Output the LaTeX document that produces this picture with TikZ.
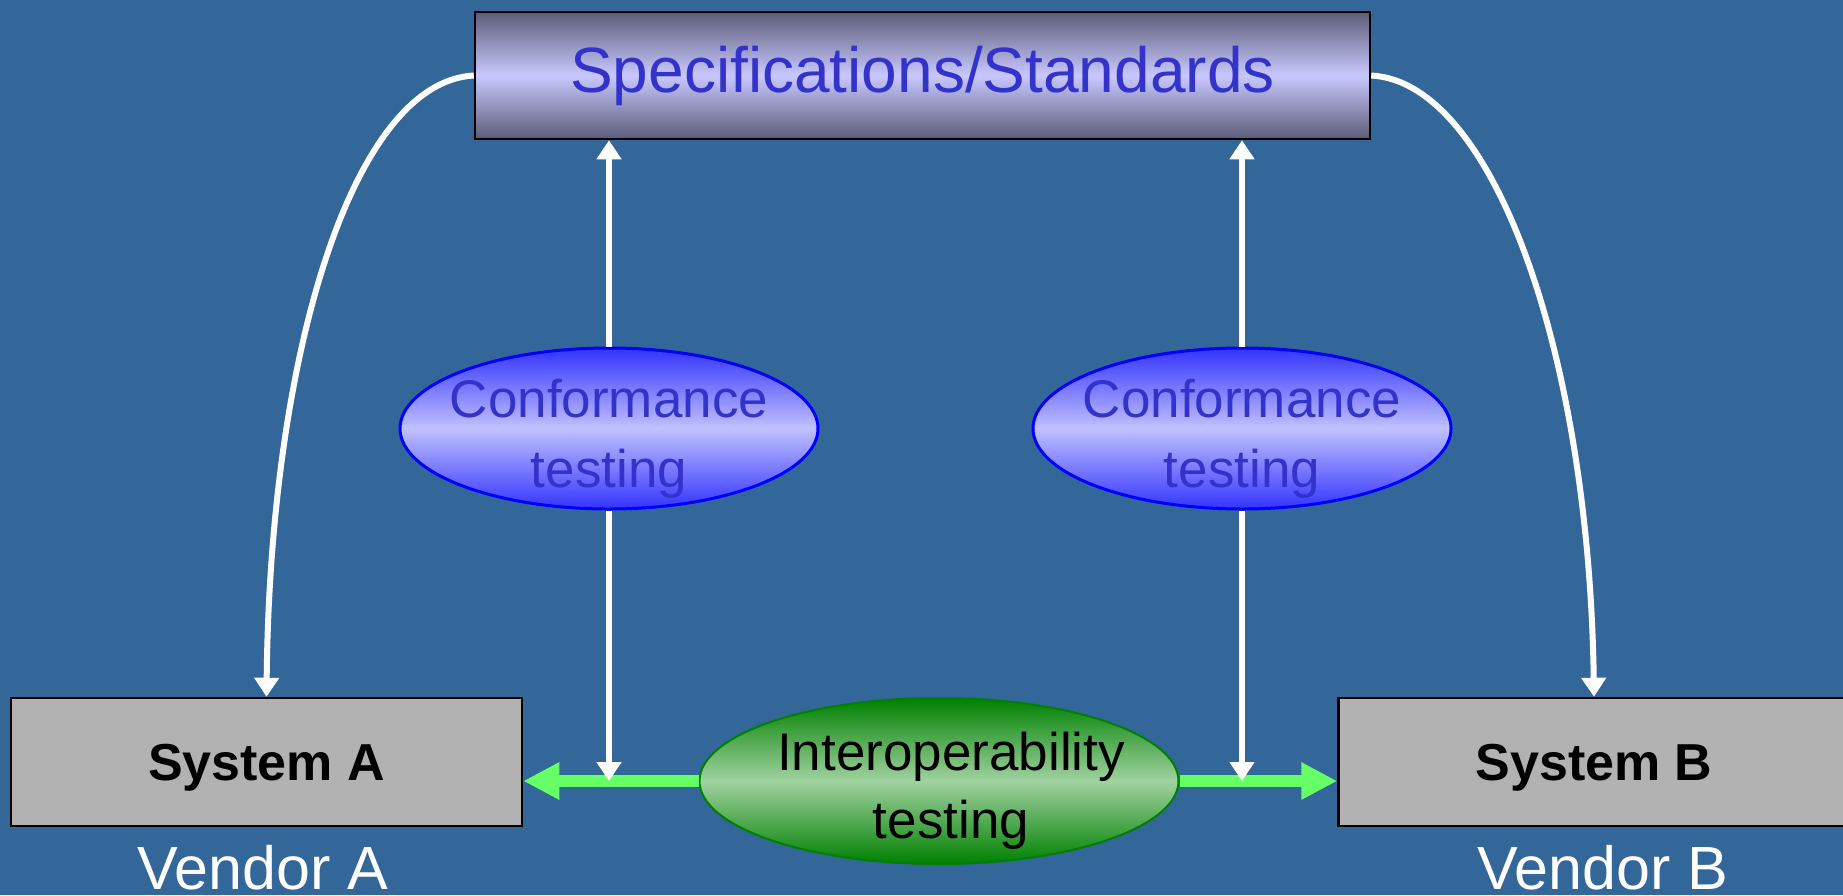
\documentclass[tikz,border=0pt]{standalone}
\usepackage{fontspec}
\setmainfont{Liberation Sans}
\usetikzlibrary{arrows.meta,shapes.geometric}
\definecolor{bg}{RGB}{51,102,153}
\definecolor{specdark}{RGB}{92,92,120}
\definecolor{speclight}{RGB}{200,200,255}
\definecolor{spectext}{RGB}{51,51,204}
\definecolor{confdark}{RGB}{51,51,255}
\definecolor{conflight}{RGB}{192,192,255}
\definecolor{interdark}{RGB}{0,128,0}
\definecolor{interlight}{RGB}{160,210,160}
\definecolor{sysgray}{RGB}{178,178,178}
\definecolor{arrowgreen}{RGB}{102,255,102}
\tikzset{
  specbox/.style={draw=black, line width=2.5pt, top color=specdark, bottom color=specdark, middle color=speclight,
    minimum width=895pt, minimum height=127pt, inner sep=0pt, text=spectext,
    font=\fontsize{64pt}{72pt}\selectfont},
  confell/.style={ellipse, draw=blue, line width=3pt, top color=confdark, bottom color=confdark, middle color=conflight,
    minimum width=418pt, minimum height=161pt, inner sep=0pt},
  conftext/.style={inner sep=0pt, align=center, text=spectext, yshift=-10pt,
    font=\fontsize{53pt}{70pt}\selectfont},
  interell/.style={ellipse, draw=interdark, line width=2pt, top color=interdark, bottom color=interdark, middle color=interlight,
    minimum width=479pt, minimum height=166pt, inner sep=0pt},
  intertext/.style={inner sep=0pt, align=center, text=black, yshift=-10pt, xshift=12pt,
    font=\fontsize{53pt}{68pt}\selectfont},
  sysbox/.style={draw=black, line width=2.5pt, fill=sysgray, minimum width=511pt, minimum height=128pt, inner sep=0pt,
    text depth=0pt, font=\bfseries\fontsize{52pt}{60pt}\selectfont},
  vendor/.style={text=white, inner sep=0pt, font=\fontsize{61pt}{70pt}\selectfont},
  whitearrow/.style={draw=white, line width=6pt, -{Triangle[length=19pt,width=24pt]}},
  greenarrow/.style={draw=arrowgreen, line width=12pt, -{Triangle[length=36pt,width=35pt]}},
}
\begin{document}
\begin{tikzpicture}[x=1pt,y=-1pt]
\useasboundingbox (0,0) rectangle (1843,895);
\fill[bg] (0,0) rectangle (1843,895);
\clip (0,0) rectangle (1843,895);

\node[specbox] (spec) at (922.5,75.5) {Specifications/Standards};
\node[sysbox] (sysA) at (266.5,762) {System A};
\node[sysbox] (sysB) at (1594,762) {System B};
\node[vendor, anchor=base] (vendA) at (263,889) {Vendor A};
\node[vendor, anchor=base] (vendB) at (1603,889) {Vendor B};

% curved connectors
\draw[whitearrow] (spec.west) .. controls (353,82) and (270,353) .. (sysA.north);
\draw[whitearrow] (spec.east) .. controls (1493,82) and (1589,353) .. (sysB.north);

% conformance ellipses
\node[confell] (confA) at (609,428.5) {};
\node[conftext] (confAt) at (confA.center) {Conformance\\testing};
\node[confell] (confB) at (1242,428.5) {};
\node[conftext] (confBt) at (confB.center) {Conformance\\testing};

% interoperability
\node[interell] (inter) at (939,781) {};
\node[intertext] (intert) at (inter.center) {Interoperability\\testing};

\draw[greenarrow] (inter.west) -- (inter.west -| sysA.east);
\draw[greenarrow] (inter.east) -- (inter.east -| sysB.west);

\coordinate (hitA) at (confA.south |- inter.west);
\coordinate (hitB) at (confB.south |- inter.east);

\draw[whitearrow] (confA.north) -- (confA.north |- spec.south);
\draw[whitearrow] (confB.north) -- (confB.north |- spec.south);
\draw[whitearrow] (confA.south) -- (hitA);
\draw[whitearrow] (confB.south) -- (hitB);
\end{tikzpicture}
\end{document}
